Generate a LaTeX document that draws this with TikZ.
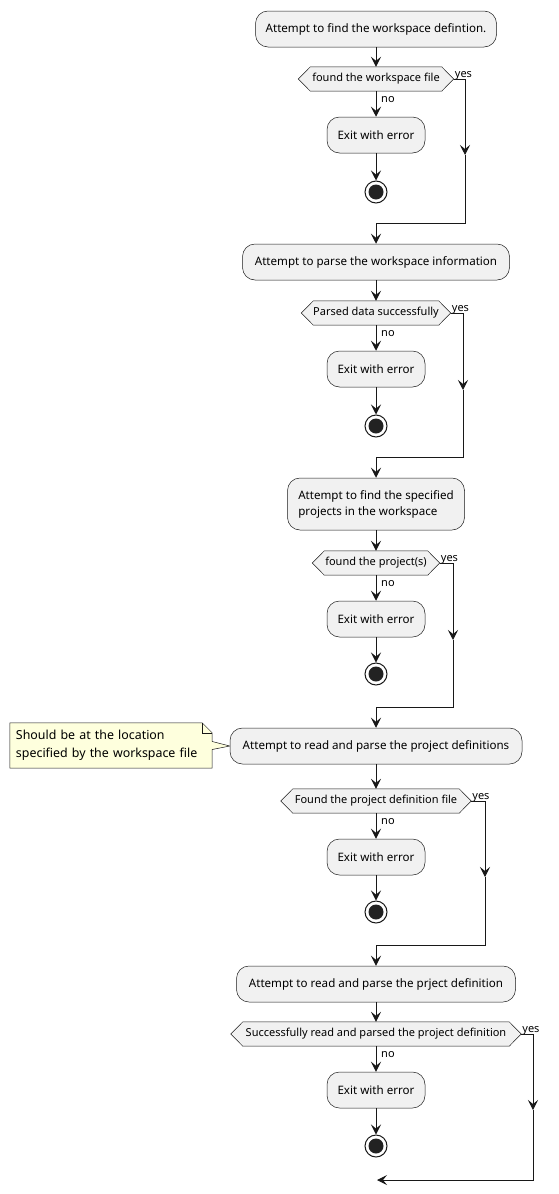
\documentclass[tikz,border=0pt]{standalone}
\usepackage{fontspec}
\setmainfont{Noto Sans}
\usetikzlibrary{arrows.meta,backgrounds}
\definecolor{actfill}{HTML}{F1F1F1}
\definecolor{ln}{HTML}{181818}
\definecolor{notefill}{HTML}{FEFFDD}
\definecolor{endfill}{HTML}{222222}
\tikzset{
 act/.style={draw=ln, line width=0.5pt, fill=actfill, rounded corners=12.5pt, minimum height=36pt, inner sep=0pt, font=\fontsize{11.6}{16}\selectfont},
 exitbox/.style={act, minimum width=98pt},
 hexnode/.style={inner sep=0pt, minimum height=24pt, font=\fontsize{11}{13}\selectfont},
 hexline/.style={draw=ln, line width=0.5pt, fill=actfill},
 lbl/.style={inner sep=0pt, font=\fontsize{11}{13}\selectfont},
 flow/.style={draw=ln, line width=1pt},
 arr/.style={flow, -{Stealth[length=10pt,width=10pt,inset=4pt]}},
 endouter/.style={circle, draw=ln, line width=1pt, fill=white, minimum size=22pt, inner sep=0pt},
 endinner/.style={circle, fill=endfill, minimum size=15pt, inner sep=0pt},
 notenode/.style={inner xsep=6pt, inner ysep=0pt, text width=190pt, minimum height=45pt, align=left, font=\fontsize{12.4}{18}\selectfont},
 noteline/.style={draw=ln, line width=0.5pt, fill=notefill},
}
\newcommand{\hexa}[1]{%
 \begin{pgfonlayer}{background}
 \path[hexline] (#1.west) -- ([xshift=12pt]#1.north west) -- ([xshift=-12pt]#1.north east) -- (#1.east) -- ([xshift=-12pt]#1.south east) -- ([xshift=12pt]#1.south west) -- cycle;
 \end{pgfonlayer}}
\newcommand{\yesno}[1]{%
 \node[lbl, anchor=base west] at ([xshift=1pt,yshift=2pt]#1.east) {yes};
 \node[lbl, anchor=base west] at ([xshift=5pt,yshift=-11.5pt]#1.south) {no};}
\begin{document}
\begin{tikzpicture}[x=1pt,y=-1pt]
\useasboundingbox (0,0) rectangle (558,1194);

% ---------- section 1
\node[act, minimum width=241pt] (b1) at (376,29) {Attempt to find the workspace defintion.};
\node[hexnode, minimum width=155pt] (d1) at (376,79) {found the workspace file};
\hexa{d1}\yesno{d1}
\node[exitbox] (e1) at (376,135) {Exit with error};
\node[endouter] (c1) at (376,192) {};
\node[endinner] (ci1) at (c1) {};
\coordinate (a1) at (465,155);
\coordinate (m1) at (376,223);

% ---------- section 2
\node[act, minimum width=267pt] (b2) at (376,262) {Attempt to parse the workspace information};
\node[hexnode, minimum width=149pt] (d2) at (376,313) {Parsed data successfully};
\hexa{d2}\yesno{d2}
\node[exitbox] (e2) at (376,369) {Exit with error};
\node[endouter] (c2) at (376,426) {};
\node[endinner] (ci2) at (c2) {};
\coordinate (a2) at (463,390);
\coordinate (m2) at (376,457);

% ---------- section 3
\node[act, minimum width=177pt, minimum height=52pt, align=left] (b3) at (376,504) {Attempt to find the specified\\projects in the workspace};
\node[hexnode, minimum width=127pt] (d3) at (376,563) {found the project(s)};
\hexa{d3}\yesno{d3}
\node[exitbox] (e3) at (376,619) {Exit with error};
\node[endouter] (c3) at (376,674) {};
\node[endinner] (ci3) at (c3) {};
\coordinate (a3) at (453,640);
\coordinate (m3) at (376,707);

% ---------- section 4
\node[act, minimum width=292pt] (b4) at (376,746) {Attempt to read and parse the project definitions};
\node[hexnode, minimum width=190pt] (d4) at (376,801) {Found the project definition file};
\hexa{d4}\yesno{d4}
\node[exitbox] (e4) at (376,857) {Exit with error};
\node[endouter] (c4) at (376,912) {};
\node[endinner] (ci4) at (c4) {};
\coordinate (a4) at (485,877);
\coordinate (m4) at (376,945);

% note
\node[notenode] (n1) at (111,745.5) {Should be at the location\\specified by the workspace file};
\begin{pgfonlayer}{background}
\path[noteline] (n1.north west) -- ([xshift=-10pt]n1.north east) -- ([yshift=-10pt]n1.north east) -- ([yshift=4pt]n1.east) -- (b4.west) -- ([yshift=-4pt]n1.east) -- (n1.south east) -- (n1.south west) -- cycle;
\end{pgfonlayer}
\draw[draw=ln, line width=0.5pt] ([xshift=-10pt]n1.north east) -- ([xshift=-10pt,yshift=-10pt]n1.north east) -- ([yshift=-10pt]n1.north east);

% ---------- section 5
\node[act, minimum width=279pt] (b5) at (376,984) {Attempt to read and parse the prject definition};
\node[hexnode, minimum width=290pt] (d5) at (376,1034) {Successfully read and parsed the project definition};
\hexa{d5}\yesno{d5}
\node[exitbox] (e5) at (376,1090) {Exit with error};
\node[endouter] (c5) at (376,1146) {};
\node[endinner] (ci5) at (c5) {};
\coordinate (a5) at (533,1110);
\coordinate (m5) at (377,1180);

% ---------- connectors
\foreach \i in {1,...,5}{
 \draw[arr] (b\i.south) -- (d\i.north);
 \draw[arr] (d\i.south) -- (e\i.north);
 \draw[arr] (e\i.south) -- (c\i.north);
 \draw[arr] (d\i.east) -| (a\i);
}
\foreach \i in {1,...,4}{
 \draw[flow] (a\i) |- (m\i);
}
\draw[arr] (m1) -- (b2.north);
\draw[arr] (m2) -- (b3.north);
\draw[arr] (m3) -- (b4.north);
\draw[arr] (m4) -- (b5.north);
\draw[arr] (a5) |- (m5);
\end{tikzpicture}
\end{document}
